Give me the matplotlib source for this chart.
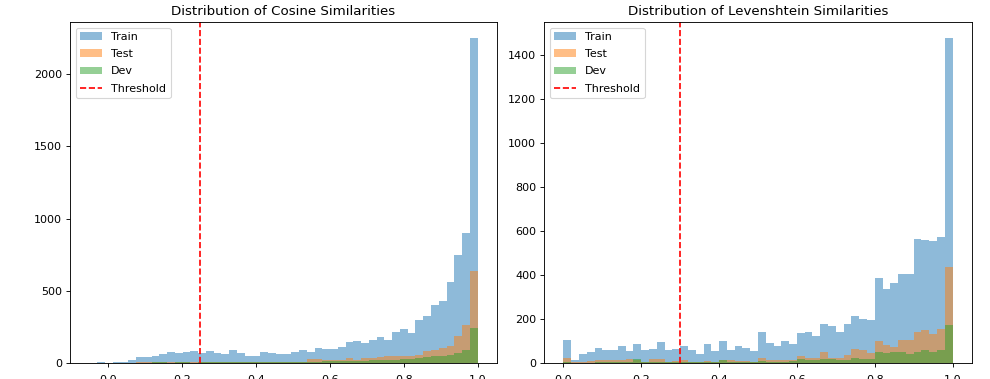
import numpy as np
import matplotlib
matplotlib.use("Agg")
import matplotlib.pyplot as plt

# bin counts (50 bins per panel)
cos_range = (-0.05, 1.0)
cos_train = [0, 7, 0, 10, 5, 23, 40, 42, 50, 65, 76, 70, 74, 83, 70, 83, 72, 65, 88, 70,
             48, 48, 76, 72, 65, 60, 79, 88, 79, 104, 97, 95, 108, 145, 150, 139, 159, 182, 162, 217,
             236, 208, 296, 323, 404, 427, 563, 747, 903, 2250]
cos_test = [0, 0, 0, 0, 2, 3, 4, 5, 5, 6, 5, 5, 6, 4, 4, 5, 4, 4, 5, 4,
            4, 5, 6, 6, 7, 7, 8, 9, 28, 25, 23, 23, 22, 32, 23, 37, 32, 42, 46, 48,
            51, 51, 58, 81, 92, 104, 115, 185, 261, 640]
cos_dev = [0, 0, 0, 0, 1, 2, 3, 3, 4, 4, 3, 4, 4, 3, 4, 4, 5, 4, 5, 5,
           5, 5, 6, 6, 7, 8, 8, 9, 10, 10, 12, 12, 12, 14, 16, 16, 18, 21, 21, 23,
           28, 30, 32, 39, 46, 46, 58, 69, 92, 243]

lev_range = (0.0, 1.0)
lev_train = [103, 15, 40, 49, 70, 58, 58, 76, 55, 88, 58, 65, 94, 61, 65, 76, 61, 43, 85, 55,
             99, 61, 76, 67, 55, 140, 91, 79, 99, 88, 137, 140, 122, 176, 167, 140, 176, 213, 202, 195,
             385, 338, 362, 404, 404, 563, 559, 554, 575, 1478]
lev_test = [24, 5, 6, 9, 12, 12, 15, 12, 18, 12, 6, 18, 18, 6, 10, 15, 5, 6, 9, 6,
            12, 12, 9, 9, 6, 24, 12, 15, 15, 12, 30, 21, 24, 50, 24, 24, 35, 65, 58, 46,
            99, 81, 72, 106, 103, 141, 149, 131, 157, 436]
lev_dev = [3, 2, 2, 2, 6, 3, 4, 3, 4, 18, 3, 3, 3, 3, 3, 4, 4, 3, 3, 3,
           14, 5, 5, 5, 5, 10, 5, 6, 6, 8, 17, 12, 14, 20, 18, 15, 15, 21, 18, 20,
           52, 46, 49, 49, 40, 49, 58, 52, 58, 172]

cos_threshold = 0.25
lev_threshold = 0.3


def plot_panel(ax, rng, train, test, dev, threshold, title):
    edges = np.linspace(rng[0], rng[1], len(train) + 1)
    centers = (edges[:-1] + edges[1:]) / 2
    ax.hist(centers, bins=edges, weights=train, alpha=0.5, label="Train")
    ax.hist(centers, bins=edges, weights=test, alpha=0.5, label="Test")
    ax.hist(centers, bins=edges, weights=dev, alpha=0.5, label="Dev")
    ax.axvline(threshold, color="r", linestyle="--", label="Threshold")
    ax.set_title(title)
    ax.legend(loc="upper left", labelspacing=0.65)
    ax.tick_params(axis="x", pad=7)


# reference looks like a default figure shrunk to ~80%, so draw at dpi 80
W, H, DPI = 990, 379, 80
fig = plt.figure(figsize=(W / DPI, H / DPI), dpi=DPI)
ax1 = fig.add_axes([70 / W, 16 / H, 427 / W, 341 / H])
ax2 = fig.add_axes([544 / W, 16 / H, 428 / W, 341 / H])

plot_panel(ax1, cos_range, cos_train, cos_test, cos_dev, cos_threshold,
           "Distribution of Cosine Similarities")
plot_panel(ax2, lev_range, lev_train, lev_test, lev_dev, lev_threshold,
           "Distribution of Levenshtein Similarities")

fig.savefig("out.png", dpi=DPI)
